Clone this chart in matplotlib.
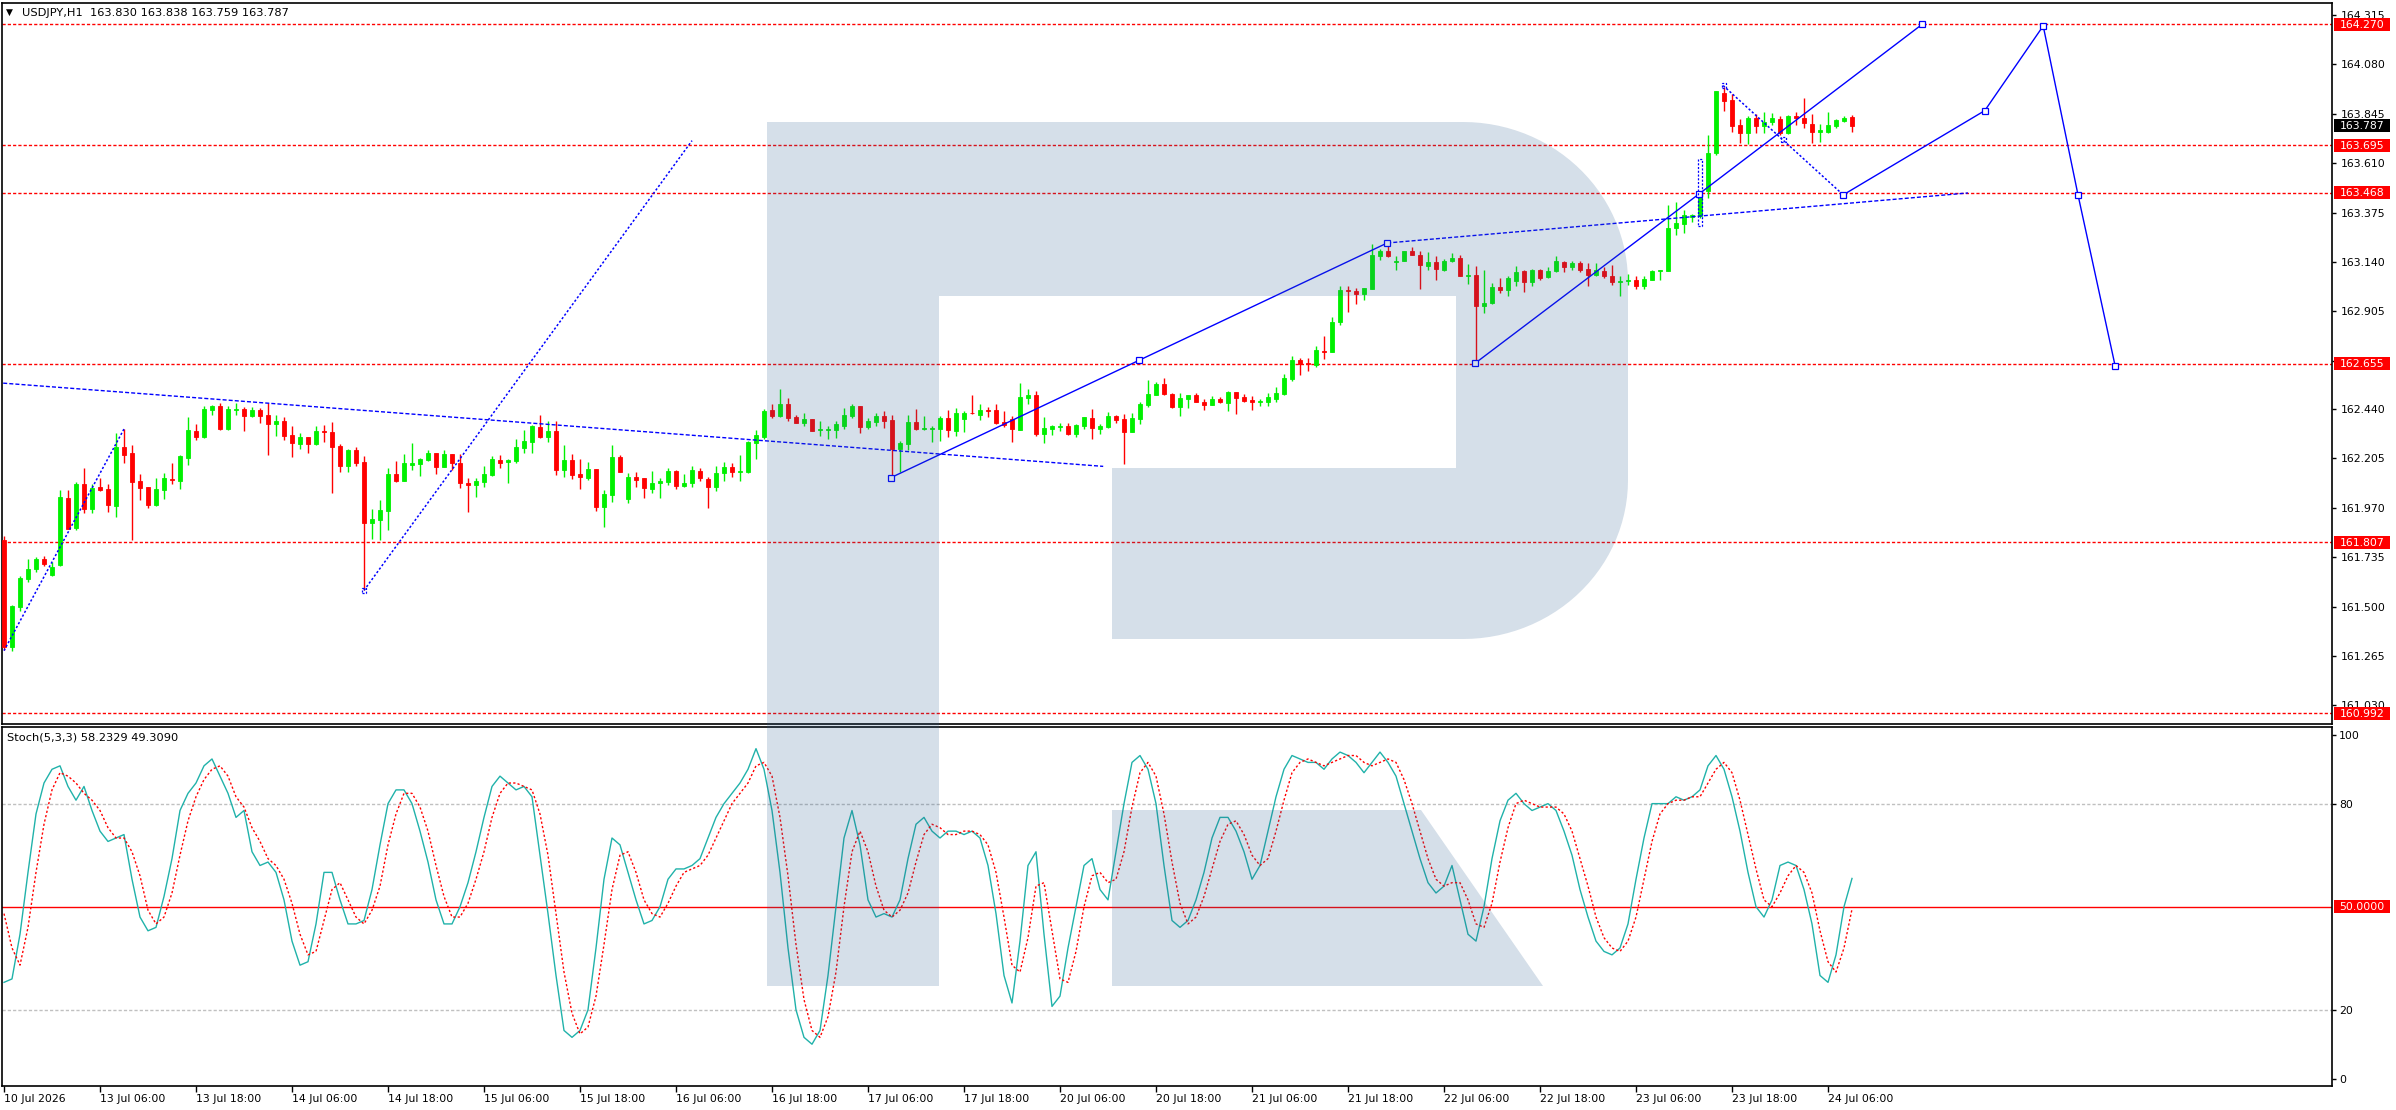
import matplotlib
matplotlib.use("Agg")
import matplotlib.pyplot as plt
import numpy as np
from matplotlib.patches import Polygon, Rectangle

plt.rcParams['lines.scale_dashes'] = False
plt.rcParams['font.family'] = ['DejaVu Sans']

# ---------------- data ----------------
symbol_title = "USDJPY,H1  163.830 163.838 163.759 163.787"
stoch_title = "Stoch(5,3,3) 58.2329 49.3090"

opens = [161.815,161.307,161.497,161.629,161.677,161.725,161.648,161.696,162.016,161.874,
 162.083,161.963,162.070,162.059,161.979,162.257,162.230,162.095,162.068,161.982,
 162.054,162.106,162.098,162.208,162.335,162.308,162.436,162.455,162.345,162.437,
 162.440,162.408,162.436,162.412,162.370,162.383,162.316,162.273,162.305,162.273,
 162.337,162.331,162.264,162.170,162.245,162.186,161.898,161.911,161.954,162.130,
 162.098,162.173,162.178,162.197,162.229,162.165,162.224,162.181,162.087,162.079,
 162.094,162.126,162.197,162.189,162.194,162.256,162.285,162.353,162.309,162.336,
 162.150,162.197,162.130,162.113,162.154,161.975,162.030,162.210,162.011,162.115,
 162.110,162.059,162.086,162.094,162.145,162.075,162.086,162.145,162.105,162.070,
 162.134,162.162,162.138,162.142,162.280,162.309,162.436,162.409,162.464,162.401,
 162.375,162.391,162.342,162.342,162.340,162.359,162.409,162.455,162.356,162.380,
 162.407,162.388,162.250,162.274,162.380,162.345,162.345,162.345,162.396,162.337,
 162.393,162.423,162.412,162.436,162.436,162.380,162.393,162.340,162.494,162.507,
 162.321,162.345,162.356,162.359,162.321,162.361,162.397,162.345,162.356,162.409,
 162.393,162.332,162.393,162.459,162.507,162.560,162.512,162.448,162.488,162.507,
 162.475,162.459,162.488,162.470,162.523,162.499,162.483,162.471,162.475,162.488,
 162.512,162.583,162.674,162.658,162.647,162.717,162.709,162.852,163.008,163.003,
 162.989,163.013,163.170,163.194,163.138,163.143,163.194,163.175,163.119,163.138,
 163.100,163.143,163.159,163.072,163.080,162.929,162.944,163.021,163.008,163.051,
 163.095,163.043,163.103,163.068,163.095,163.140,163.116,163.135,163.107,163.080,
 163.099,163.075,163.045,163.048,163.056,163.027,163.056,163.095,163.095,163.302,
 163.318,163.355,163.358,163.477,163.657,163.946,163.909,163.790,163.752,163.827,
 163.787,163.806,163.822,163.752,163.832,163.827,163.795,163.760,163.758,163.787,
 163.811,163.830]
highs = [161.834,161.509,161.644,161.725,161.736,161.739,161.712,162.054,162.054,162.094,
 162.160,162.083,162.114,162.083,162.327,162.345,162.269,162.130,162.068,162.113,
 162.137,162.184,162.221,162.404,162.369,162.455,162.459,162.467,162.455,162.470,
 162.451,162.450,162.447,162.467,162.412,162.404,162.359,162.324,162.308,162.359,
 162.364,162.378,162.273,162.248,162.261,162.218,161.966,162.006,162.160,162.192,
 162.224,162.277,162.205,162.245,162.229,162.245,162.224,162.226,162.114,162.110,
 162.169,162.216,162.221,162.200,162.297,162.340,162.364,162.412,162.383,162.383,
 162.269,162.226,162.202,162.188,162.154,162.054,162.269,162.221,162.137,162.138,
 162.110,162.145,162.110,162.158,162.150,162.129,162.169,162.161,162.115,162.169,
 162.188,162.181,162.221,162.289,162.340,162.441,162.464,162.536,162.493,162.412,
 162.420,162.391,162.383,162.359,162.383,162.444,162.464,162.455,162.396,162.420,
 162.431,162.412,162.288,162.412,162.441,162.407,162.359,162.407,162.433,162.447,
 162.431,162.507,162.464,162.448,162.464,162.431,162.407,162.566,162.536,162.526,
 162.404,162.364,162.375,162.375,162.367,162.404,162.440,162.369,162.428,162.412,
 162.416,162.423,162.475,162.579,162.568,162.587,162.515,162.515,162.507,162.518,
 162.488,162.502,162.499,162.526,162.523,162.512,162.502,162.488,162.515,162.547,
 162.607,162.690,162.685,162.685,162.738,162.788,162.878,163.027,163.027,163.016,
 163.016,163.223,163.202,163.223,163.170,163.194,163.211,163.194,163.188,163.167,
 163.156,163.183,163.175,163.132,163.122,163.103,163.040,163.064,163.075,163.119,
 163.100,163.107,163.108,163.116,163.167,163.146,163.146,163.143,163.135,163.135,
 163.116,163.127,163.075,163.083,163.072,163.072,163.103,163.103,163.413,163.426,
 163.385,163.369,163.477,163.742,163.951,163.970,163.941,163.822,163.832,163.843,
 163.854,163.847,163.832,163.838,163.851,163.922,163.843,163.795,163.851,163.822,
 163.835,163.838]
lows = [161.294,161.288,161.478,161.617,161.664,161.693,161.644,161.693,161.868,161.863,
 161.946,161.946,162.049,161.951,161.927,162.184,161.815,162.006,161.968,161.979,
 162.014,162.083,162.059,162.173,162.292,162.304,162.412,162.340,162.340,162.412,
 162.337,162.404,162.375,162.221,162.311,162.292,162.213,162.249,162.232,162.269,
 162.284,162.041,162.141,162.141,162.168,161.577,161.820,161.815,161.863,162.094,
 162.098,162.149,162.122,162.194,162.133,162.162,162.149,162.065,161.951,162.022,
 162.070,162.121,162.161,162.089,162.185,162.232,162.232,162.301,162.285,162.126,
 162.118,162.107,162.060,162.102,161.956,161.879,161.999,162.142,161.991,162.070,
 162.018,162.041,162.018,162.078,162.060,162.070,162.070,162.097,161.971,162.051,
 162.099,162.118,162.099,162.134,162.200,162.296,162.396,162.404,162.385,162.372,
 162.359,162.337,162.313,162.297,162.304,162.345,162.399,162.328,162.345,162.361,
 162.351,162.110,162.142,162.245,162.340,162.340,162.285,162.289,162.309,162.313,
 162.332,162.416,162.388,162.404,162.369,162.353,162.284,162.340,162.464,162.313,
 162.280,162.316,162.335,162.316,162.308,162.345,162.297,162.321,162.348,162.375,
 162.176,162.329,162.369,162.451,162.507,162.507,162.444,162.407,162.447,162.472,
 162.436,162.459,162.467,162.431,162.417,162.471,162.436,162.456,162.456,162.471,
 162.507,162.571,162.603,162.623,162.642,162.679,162.709,162.841,162.900,162.941,
 162.960,163.013,163.148,163.162,163.103,163.143,163.172,163.013,163.100,163.056,
 163.095,163.138,163.072,163.037,162.650,162.897,162.940,162.992,162.976,163.024,
 162.995,163.024,163.053,163.061,163.092,163.092,163.103,163.092,163.024,163.072,
 163.061,163.029,162.976,163.032,163.013,163.013,163.053,163.053,163.095,163.270,
 163.278,163.329,163.350,163.445,163.649,163.859,163.760,163.708,163.700,163.755,
 163.755,163.792,163.743,163.747,163.792,163.776,163.708,163.712,163.752,163.776,
 163.806,163.759]
closes = [161.307,161.502,161.634,161.677,161.725,161.701,161.687,162.022,161.871,162.083,
 161.965,162.062,162.054,161.982,162.257,162.221,162.094,162.065,161.982,162.059,
 162.111,162.103,162.216,162.340,162.305,162.439,162.455,162.345,162.439,162.440,
 162.408,162.436,162.408,162.370,162.383,162.313,162.280,162.305,162.273,162.335,
 162.332,162.261,162.170,162.245,162.184,161.898,161.916,161.959,162.133,162.098,
 162.181,162.181,162.200,162.229,162.165,162.224,162.181,162.086,162.079,162.095,
 162.130,162.202,162.185,162.197,162.258,162.288,162.359,162.309,162.336,162.150,
 162.197,162.126,162.118,162.154,161.975,162.035,162.210,162.142,162.115,162.102,
 162.062,162.086,162.097,162.145,162.075,162.086,162.150,162.110,162.070,162.134,
 162.162,162.138,162.145,162.285,162.316,162.431,162.409,162.464,162.399,162.375,
 162.391,162.337,162.345,162.345,162.369,162.412,162.455,162.356,162.383,162.407,
 162.385,162.250,162.280,162.380,162.345,162.348,162.348,162.396,162.340,162.420,
 162.423,162.420,162.436,162.432,162.375,162.364,162.345,162.499,162.507,162.321,
 162.348,162.359,162.361,162.321,162.364,162.402,162.351,162.361,162.409,162.388,
 162.332,162.399,162.464,162.512,162.560,162.512,162.448,162.494,162.507,162.475,
 162.459,162.488,162.472,162.523,162.494,162.479,162.471,162.478,162.496,162.515,
 162.587,162.674,162.653,162.653,162.722,162.709,162.854,163.008,163.003,162.989,
 163.016,163.175,163.194,163.167,163.146,163.194,163.172,163.124,163.138,163.107,
 163.146,163.159,163.072,163.080,162.929,162.944,163.021,163.008,163.061,163.092,
 163.043,163.103,163.061,163.099,163.143,163.116,163.135,163.103,163.080,163.103,
 163.072,163.043,163.051,163.056,163.027,163.059,163.099,163.100,163.302,163.323,
 163.361,163.362,163.461,163.660,163.951,163.906,163.787,163.752,163.827,163.787,
 163.808,163.827,163.755,163.832,163.825,163.803,163.758,163.768,163.790,163.814,
 163.827,163.787]

# Stochastic (5,3,3) main and signal lines
stoch_k = [28,29,42,60,77,86,90,91,85,81, 85,78,72,69,70,71,58,47,43,44,
 53,64,78,83,86,91,93,88,83,76, 78,66,62,63,60,52,40,33,34,45,
 60,60,52,45,45,46,55,68,80,84, 84,80,72,63,52,45,45,50,57,66,
 76,85,88,86,84,85,82,65,48,30, 14,12,14,20,38,58,70,68,60,52,
 45,46,50,58,61,61,62,64,70,76, 80,83,86,90,96,90,78,60,38,20,
 12,10,14,30,50,70,78,68,52,47, 48,47,52,64,74,76,72,70,72,72,
 71,72,70,62,48,30,22,40,62,66, 42,21,24,38,50,62,64,55,52,66,
 80,92,94,90,80,62,46,44,46,52, 60,70,76,76,72,66,58,62,72,82,
 90,94,93,92,92,90,93,95,94,92, 89,92,95,92,88,80,72,64,57,54,
 56,62,52,42,40,50,64,75,81,83, 80,78,79,80,78,72,65,55,47,40,
 37,36,38,45,58,70,80,80,80,82, 81,82,84,91,94,90,82,72,60,50,
 47,52,62,63,62,55,45,30,28,36, 50,58.2329]
stoch_d = [48,38,33,44,60,74,84,89,88,86, 83,81,78,73,70,70,66,59,49,45,
 47,54,65,75,82,87,90,91,88,82, 79,73,69,64,62,58,51,42,36,37,
 46,55,57,52,47,45,49,56,68,77, 83,83,79,72,62,53,47,47,51,58,
 66,76,83,86,86,85,84,77,65,48, 31,19,13,15,24,39,55,65,66,60,
 52,48,47,51,56,60,61,62,65,70, 75,80,83,86,91,92,88,76,59,39,
 23,14,12,18,31,50,66,72,66,56, 49,47,49,54,63,71,74,73,71,71,
 72,72,71,68,60,47,33,31,41,56, 57,43,29,28,37,50,59,60,57,58,
 66,79,89,92,88,77,63,51,45,47, 53,61,69,74,75,71,65,62,64,72,
 81,89,92,93,92,91,92,93,94,94, 92,91,92,93,92,87,80,72,64,58,
 56,57,57,52,45,44,51,63,73,80, 81,80,79,79,79,77,72,64,56,47,
 41,38,37,40,47,58,69,77,80,81, 81,82,82,86,90,92,89,81,71,61,
 52,50,54,59,62,60,54,43,34,31, 38,49.309]

time_labels = ["10 Jul 2026", "13 Jul 06:00", "13 Jul 18:00", "14 Jul 06:00", "14 Jul 18:00",
               "15 Jul 06:00", "15 Jul 18:00", "16 Jul 06:00", "16 Jul 18:00", "17 Jul 06:00",
               "17 Jul 18:00", "20 Jul 06:00", "20 Jul 18:00", "21 Jul 06:00", "21 Jul 18:00",
               "22 Jul 06:00", "22 Jul 18:00", "23 Jul 06:00", "23 Jul 18:00", "24 Jul 06:00"]
label_bars = [0, 12, 24, 36, 48, 60, 72, 84, 96, 108, 120, 132, 144, 156, 168, 180, 192, 204, 216, 228]

price_ticks = [164.315, 164.080, 163.845, 163.610, 163.375, 163.140, 162.905, 162.670,
               162.440, 162.205, 161.970, 161.735, 161.500, 161.265, 161.030]
levels = [164.270, 163.695, 163.468, 162.655, 161.807, 160.992]
last_price = 163.787

# drawn objects: (bar, price) vertices
dotted_lines = [
    [(0, 161.29), (15, 162.345)],
    [(45, 161.577), (86, 163.717)],
    [(214.9, 163.979), (229.9, 163.459)],
]
dashed_lines = [
    [(-0.1, 162.563), (137.4, 162.167)],
    [(172.9, 163.230), (245.5, 163.468)],
]
solid_lines = [
    [(110.9, 162.114), (141.9, 162.672), (172.9, 163.230)],
    [(183.9, 162.658), (211.9, 163.464), (239.75, 164.27)],
    [(229.9, 163.459), (247.6, 163.860), (254.9, 164.263), (259.25, 163.459), (263.9, 162.644)],
]
# dashed anchor boxes of the selected objects: (bar, low price, high price)
anchor_boxes = [(45, 161.565, 161.590), (215, 163.966, 163.992), (222.4, 163.709, 163.735),
                (212, 163.310, 163.630)]

# ---------------- figure ----------------
W, H = 2396, 1110
fig = plt.figure(figsize=(W / 100, H / 100), dpi=100)
fig.patch.set_facecolor('white')


def add_ax(l, t, r, b):
    return fig.add_axes([l / W, 1 - b / H, (r - l) / W, (b - t) / H])


ax = add_ax(2, 3, 2332, 724)
ax2 = add_ax(2, 727, 2332, 1086)

BULL = '#00f000'
BEAR = '#ff0000'
BLUE = '#0000ff'
LEVEL_DASH = (2.3, 1.5)

o = np.array(opens); h = np.array(highs); l = np.array(lows); c = np.array(closes)
x = np.arange(len(o))
up = c >= o
cols = np.where(up, BULL, BEAR)
ax.vlines(x, l, h, colors=cols, lw=1.0, zorder=3)
ax.bar(x, np.abs(c - o), bottom=np.minimum(o, c), width=0.62, color=cols,
       edgecolor=cols, lw=0.6, zorder=4)

ax.set_xlim(-0.25, 291)
ax.set_ylim(160.941, 164.372)
ax2.set_xlim(-0.25, 291)
ax2.set_ylim(-2.16, 102.3)

for lv in levels:
    ax.axhline(lv, color='red', lw=1.0, dashes=LEVEL_DASH, zorder=2)

for seg in dotted_lines:
    xs, ys = zip(*seg)
    ax.plot(xs, ys, color=BLUE, lw=1.1, dashes=(1.6, 1.5), zorder=5)
for seg in dashed_lines:
    xs, ys = zip(*seg)
    ax.plot(xs, ys, color=BLUE, lw=1.0, dashes=(2.9, 1.5), zorder=5)
for seg in solid_lines:
    xs, ys = zip(*seg)
    ax.plot(xs, ys, color=BLUE, lw=1.0, zorder=5, marker='s', ms=4.2,
            mfc='white', mec=BLUE, mew=0.9)
for bx, lo_p, hi_p in anchor_boxes:
    ax.add_patch(Rectangle((bx - 0.3, lo_p), 0.6, hi_p - lo_p, facecolor='none',
                           edgecolor=BLUE, lw=0.9, ls=(0, (1.5, 1.2)), zorder=6))

# stochastic
ax2.axhline(80, color='#c0c0c0', lw=1.0, dashes=LEVEL_DASH)
ax2.axhline(20, color='#c0c0c0', lw=1.0, dashes=LEVEL_DASH)
ax2.axhline(50, color='red', lw=1.0)
ax2.plot(np.arange(len(stoch_k)), stoch_k, color='#20b2aa', lw=1.0, zorder=4)
ax2.plot(np.arange(len(stoch_d)), stoch_d, color='red', lw=1.0, dashes=(1.6, 1.6), zorder=4)

# axes styling
for a in (ax, ax2):
    for s in a.spines.values():
        s.set_linewidth(1.2)
        s.set_color('black')
    a.yaxis.tick_right()
    a.tick_params(axis='y', direction='out', length=3, width=1, pad=3,
                  labelsize=7.8, colors='black')

ax.set_xticks([])
ax.set_yticks(price_ticks)
ax.set_yticklabels([f"{v:.3f}" for v in price_ticks])
ax2.set_yticks([0, 20, 80, 100])
ax2.set_yticklabels(['0', '20', '80', '100'])
ax2.tick_params(axis='y', pad=2)
ax2.set_xticks(label_bars)
ax2.set_xticklabels(time_labels, ha='left')
ax2.tick_params(axis='x', direction='out', length=4, width=1, pad=2, labelsize=7.8)

# overlay in pixel coordinates
ov = fig.add_axes([0, 0, 1, 1], zorder=10)
ov.set_xlim(0, W)
ov.set_ylim(H, 0)
ov.axis('off')
ov.patch.set_alpha(0)


def pix_y(a, v):
    return H - a.transData.transform((0, v))[1]


def box(a, v, text, fc):
    yy = pix_y(a, v)
    ov.add_patch(Rectangle((2334, yy - 6.5), 56, 13, facecolor=fc, edgecolor='none', zorder=20))
    ov.text(2362, yy + 0.5, text, color='white', fontsize=7.8, ha='center', va='center', zorder=21)


for lv in levels:
    box(ax, lv, f"{lv:.3f}", '#ff0000')
box(ax, last_price, f"{last_price:.3f}", '#000000')
box(ax2, 50, "50.0000", '#ff0000')

# titles
ov.text(6, 12.5, "\u25bc", fontsize=6.5, va='center', ha='left', color='black')
ov.text(22, 12.5, symbol_title, fontsize=8.2, va='center', ha='left', color='black')
ov.text(7, 737, stoch_title, fontsize=8.2, va='center', ha='left', color='black')

# watermark logo
wm_color = (45 / 255, 95 / 255, 145 / 255)
t1 = np.linspace(np.pi / 2, 0, 30)
arc_top = [(1463 + 165 * np.cos(t), 282 - 160 * np.sin(t)) for t in t1]
t2 = np.linspace(0, -np.pi / 2, 30)
arc_bot = [(1463 + 165 * np.cos(t), 480 - 159 * np.sin(t)) for t in t2]
bowl = [(767, 122)] + arc_top + arc_bot + [(1112, 639), (1112, 468), (1456, 468),
                                            (1456, 296), (939, 296), (939, 986), (767, 986)]
ov.add_patch(Polygon(bowl, closed=True, facecolor=wm_color, edgecolor='none', alpha=0.2, zorder=15))
leg = [(1112, 810), (1421, 810), (1543, 986), (1112, 986)]
ov.add_patch(Polygon(leg, closed=True, facecolor=wm_color, edgecolor='none', alpha=0.2, zorder=15))

fig.savefig('out.png', dpi=100, facecolor='white')
